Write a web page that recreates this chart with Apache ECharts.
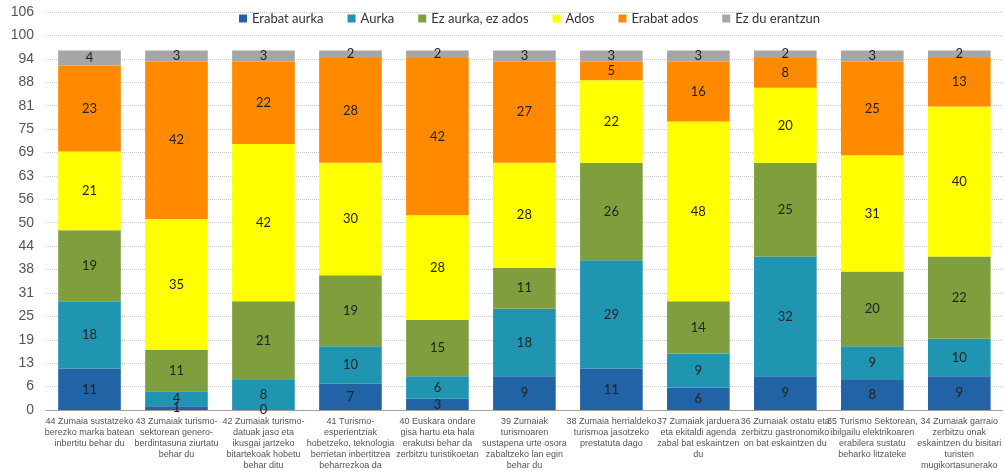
<!DOCTYPE html>
<html>
<head>
<meta charset="utf-8">
<script src="https://cdn.jsdelivr.net/npm/echarts@6/dist/echarts.min.js"></script>
<style>
  html, body { margin: 0; padding: 0; background: #fff; }
  #chart { width: 1004px; height: 474px; }
</style>
</head>
<body>
<div id="chart"></div>
<script>
// galderak (x ardatza)
const categories = [
  '44 Zumaia sustatzeko\nberezko marka batean\ninbertitu behar du',
  '43 Zumaiak turismo-\nsektorean genero-\nberdintasuna ziurtatu\nbehar du',
  '42 Zumaiak turismo-\ndatuak jaso eta\nikusgai jartzeko\nbitartekoak hobetu\nbehar ditu',
  '41 Turismo-\nesperientziak\nhobetzeko, teknologia\nberrietan inbertitzea\nbeharrezkoa da',
  '40 Euskara ondare\ngisa hartu eta hala\nerakutsi behar da\nzerbitzu turistikoetan',
  '39 Zumaiak\nturismoaren\nsustapena urte osora\nzabaltzeko lan egin\nbehar du',
  '38 Zumaia herrialdeko\nturismoa jasotzeko\nprestatuta dago',
  '37 Zumaiak jarduera\neta ekitaldi agenda\nzabal bat eskaintzen\ndu',
  '36 Zumaiak ostatu eta\nzerbitzu gastronomiko\non bat eskaintzen du',
  '35 Turismo Sektorean,\nibilgailu elektrikoaren\nerabilera sustatu\nbeharko litzateke',
  '34 Zumaiak garraio\nzerbitzu onak\neskaintzen du bisitari\nturisten\nmugikortasunerako'
]

const erabatAurka = [11, 1, 0, 7, 3, 9, 11, 6, 9, 8, 9]
const aurka = [18, 4, 8, 10, 6, 18, 29, 9, 32, 9, 10]
const ezAurkaEzAdos = [19, 11, 21, 19, 15, 11, 26, 14, 25, 20, 22]
const ados = [21, 35, 42, 30, 28, 28, 22, 48, 20, 31, 40]
const erabatAdos = [23, 42, 22, 28, 42, 27, 5, 16, 8, 25, 13]
const ezDuErantzun = [4, 3, 3, 2, 2, 3, 3, 3, 2, 3, 2]

const seriesNames = ['Erabat aurka', 'Aurka', 'Ez aurka, ez ados', 'Ados', 'Erabat ados', 'Ez du erantzun']
const seriesData = [erabatAurka, aurka, ezAurkaEzAdos, ados, erabatAdos, ezDuErantzun]
const colors = ['#2163a5', '#2095b1', '#7f9f3f', '#ffff00', '#ff8a00', '#a6a6a6']

const chart = echarts.init(document.getElementById('chart'))

chart.setOption({
  animation: false,
  color: colors,
  legend: {
    top: 7,
    left: 234,
    itemWidth: 8,
    itemHeight: 8,
    itemGap: 24,
    icon: 'rect',
    textStyle: { fontFamily: 'Lato', fontSize: 13, color: '#333' },
    data: seriesNames
  },
  grid: {
    left: 46,
    right: -6,
    top: 12,
    bottom: 64
  },
  xAxis: {
    type: 'category',
    data: categories,
    axisTick: { show: false },
    axisLine: { lineStyle: { color: '#a0a0a0' } },
    axisLabel: {
      interval: 0,
      margin: 6,
      fontFamily: 'Liberation Sans',
      fontSize: 9,
      lineHeight: 11,
      color: '#555'
    }
  },
  yAxis: {
    type: 'value',
    min: 0,
    max: 106.25,
    interval: 6.25,
    axisLine: { show: false },
    axisTick: { show: false },
    axisLabel: {
      margin: 12,
      fontFamily: 'Liberation Sans',
      fontSize: 14,
      color: '#555',
      formatter: v => Math.round(v)
    },
    splitLine: { lineStyle: { type: 'dotted', color: '#c8c8c8' } }
  },
  series: seriesNames.map((name, i) => ({
    name: name,
    type: 'bar',
    stack: 'total',
    barWidth: '72%',
    data: seriesData[i],
    label: {
      show: true,
      position: 'inside',
      fontFamily: 'Lato',
      fontSize: 13,
      color: '#222'
    }
  }))
})
</script>
</body>
</html>
